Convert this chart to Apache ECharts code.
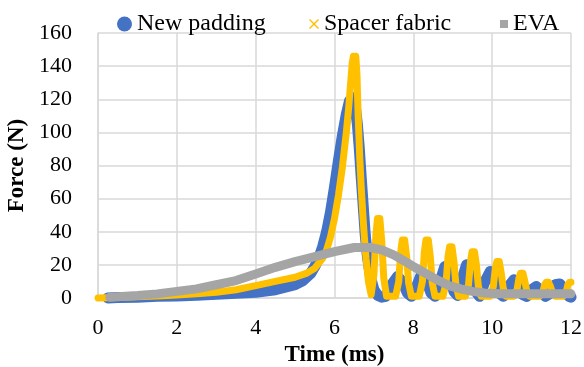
<!DOCTYPE html>
<html>
<head>
<meta charset="utf-8">
<script src="https://cdn.jsdelivr.net/npm/echarts@6/dist/echarts.min.js"></script>
<style>html,body{margin:0;padding:0;background:#fff;}#c{width:584px;height:367px;}</style>
</head>
<body>
<div id="c"></div>
<script>
const xTicks = [0, 2, 4, 6, 8, 10, 12];
const yTicks = [0, 20, 40, 60, 80, 100, 120, 140, 160];
const seriesNames = ['New padding', 'Spacer fabric', 'EVA'];

const newPadding = [
[0.25,0],[0.5,0.3],[1,0.5],[1.5,1],[2,1.2],[2.5,1.6],[3,2.2],[3.5,2.8],[4,3.5],[4.5,5],[5,8],[5.2,10.5],[5.4,15],[5.5,19],[5.6,24],[5.7,31],[5.8,40],[5.9,52],[6.0,67],[6.1,83],[6.2,98],[6.3,111],[6.38,119],[6.45,121],[6.52,117],[6.58,105],[6.63,90],[6.68,72],[6.73,55],[6.78,38],[6.84,24],[6.92,12],[7.0,5],[7.1,1.5],[7.2,0.5],[7.3,1],[7.45,8],[7.6,13],[7.72,10],[7.85,3],[7.95,1],[8.05,5],[8.2,14],[8.32,11],[8.45,3],[8.55,1],[8.65,8],[8.8,19],[8.92,15],[9.03,4],[9.12,1.5],[9.22,10],[9.35,20],[9.47,15],[9.58,4],[9.68,1],[9.8,9],[9.95,16],[10.07,11],[10.18,3],[10.28,1],[10.42,7],[10.55,11],[10.67,7],[10.78,2],[10.88,1],[11.0,5],[11.12,7],[11.22,4],[11.35,1],[11.48,3],[11.6,8],[11.72,8.5],[11.84,4],[11.95,1],[12,0.5]
];
const spacerFabric = [
[0,0],[0.5,0.3],[1,0.8],[1.5,1.2],[2,1.8],[2.5,2.5],[3,3.5],[3.5,5],[4,7.5],[4.5,10],[5,12.5],[5.3,15],[5.5,18],[5.7,24],[5.8,29],[5.9,37],[6.0,48],[6.1,62],[6.2,79],[6.3,100],[6.36,115],[6.41,130],[6.45,142],[6.48,146],[6.51,143],[6.54,146],[6.57,135],[6.6,110],[6.64,85],[6.68,66],[6.72,50],[6.76,36],[6.8,24],[6.86,10],
[6.93,2],[7.0,14],[7.05,38],[7.09,48],[7.15,48],[7.2,34],[7.25,12],[7.32,1],
[7.55,1],[7.63,10],[7.68,28],[7.72,35],[7.78,35],[7.83,25],[7.88,9],[7.95,1],
[8.15,1],[8.23,10],[8.28,28],[8.32,35],[8.38,35],[8.43,25],[8.48,9],[8.55,1],
[8.75,1],[8.83,9],[8.88,25],[8.92,31],[8.98,31],[9.03,22],[9.08,8],[9.15,1],
[9.32,1],[9.4,8],[9.45,22],[9.49,28],[9.55,28],[9.6,20],[9.65,7],[9.72,1],
[9.95,1],[10.03,7],[10.08,18],[10.12,22],[10.18,22],[10.23,15],[10.28,6],[10.35,1],
[10.55,1],[10.63,5],[10.68,12],[10.72,15],[10.78,15],[10.83,10],[10.88,4],[10.95,1],
[11.2,1],[11.28,3],[11.33,8],[11.37,9.5],[11.43,9.5],[11.48,7],[11.53,3],[11.6,1],
[11.8,1],[11.87,3],[11.92,8],[11.96,9.5],[12.0,9.5]
];
const eva = [
[0.3,0.5],[1,1.5],[1.5,2.5],[2,4],[2.5,5.5],[3,8],[3.5,10.5],[4,14.5],[4.5,18.5],[5,22],[5.5,25],[6,28],[6.5,30.5],[6.9,30.5],[7.2,29],[7.5,26],[7.8,22],[8.0,19],[8.3,15],[8.6,11],[8.9,7.5],[9.2,5.5],[9.5,4],[9.8,3],[10.2,2.5],[11,2.5],[12,2.5]
];

const colors = ['#4472C4', '#FFC000', '#A5A5A5'];
const serif = '"Liberation Serif", "Times New Roman", serif';
const xIcon = 'path://M0,1L1,0L5,4L9,0L10,1L6,5L10,9L9,10L5,6L1,10L0,9L4,5Z';

const chart = echarts.init(document.getElementById('c'), null, {renderer: 'canvas'});

function legendFor(i, left, size, icon) {
  return {
    show: true,
    left: left, top: 10, padding: 0,
    itemWidth: size, itemHeight: size,
    icon: icon,
    data: [{name: seriesNames[i], icon: icon, itemStyle: {color: colors[i], borderWidth: 0}}],
    textStyle: {fontFamily: serif, fontSize: 24, color: '#000', lineHeight: 28},
    selectedMode: false
  };
}

function lineSeries(i, data, width) {
  return {
    name: seriesNames[i],
    type: 'line',
    data: data,
    showSymbol: false,
    symbol: 'none',
    color: colors[i],
    itemStyle: {color: colors[i]},
    lineStyle: {color: colors[i], width: width, cap: 'round', join: 'round'},
    animation: false,
    clip: false,
    z: 2 + i
  };
}

chart.setOption({
  animation: false,
  backgroundColor: '#fff',
  grid: {left: 98, right: 13, top: 33, bottom: 69, containLabel: false, outerBoundsMode: 'none'},
  legend: [
    legendFor(0, 117, 15, 'circle'),
    legendFor(1, 309, 10, xIcon),
    legendFor(2, 500, 8, 'rect')
  ],
  xAxis: {
    type: 'value', min: xTicks[0], max: xTicks[xTicks.length - 1], interval: 2,
    name: 'Time (ms)', nameLocation: 'middle', nameGap: 45,
    nameTextStyle: {fontFamily: serif, fontSize: 23, fontWeight: 'bold', color: '#000'},
    axisLine: {show: true, lineStyle: {color: '#d9d9d9', width: 1.5}},
    axisTick: {show: false},
    splitLine: {show: true, lineStyle: {color: '#d9d9d9', width: 1.5}},
    axisLabel: {fontFamily: serif, fontSize: 22, color: '#000', margin: 19,
      formatter: v => xTicks.includes(v) ? String(v) : ''}
  },
  yAxis: {
    type: 'value', min: yTicks[0], max: yTicks[yTicks.length - 1], interval: 20,
    name: 'Force (N)', nameLocation: 'middle', nameGap: 64, nameRotate: 90,
    nameTextStyle: {fontFamily: serif, fontSize: 23, fontWeight: 'bold', color: '#000'},
    axisLine: {show: true, lineStyle: {color: '#d9d9d9', width: 1.5}},
    axisTick: {show: false},
    splitLine: {show: true, lineStyle: {color: '#d9d9d9', width: 1.5}},
    axisLabel: {fontFamily: serif, fontSize: 22, color: '#000', margin: 26,
      formatter: v => yTicks.includes(v) ? String(v) : ''}
  },
  series: [
    lineSeries(0, newPadding, 11),
    lineSeries(1, spacerFabric, 7),
    lineSeries(2, eva, 9)
  ]
});
</script>
</body>
</html>
